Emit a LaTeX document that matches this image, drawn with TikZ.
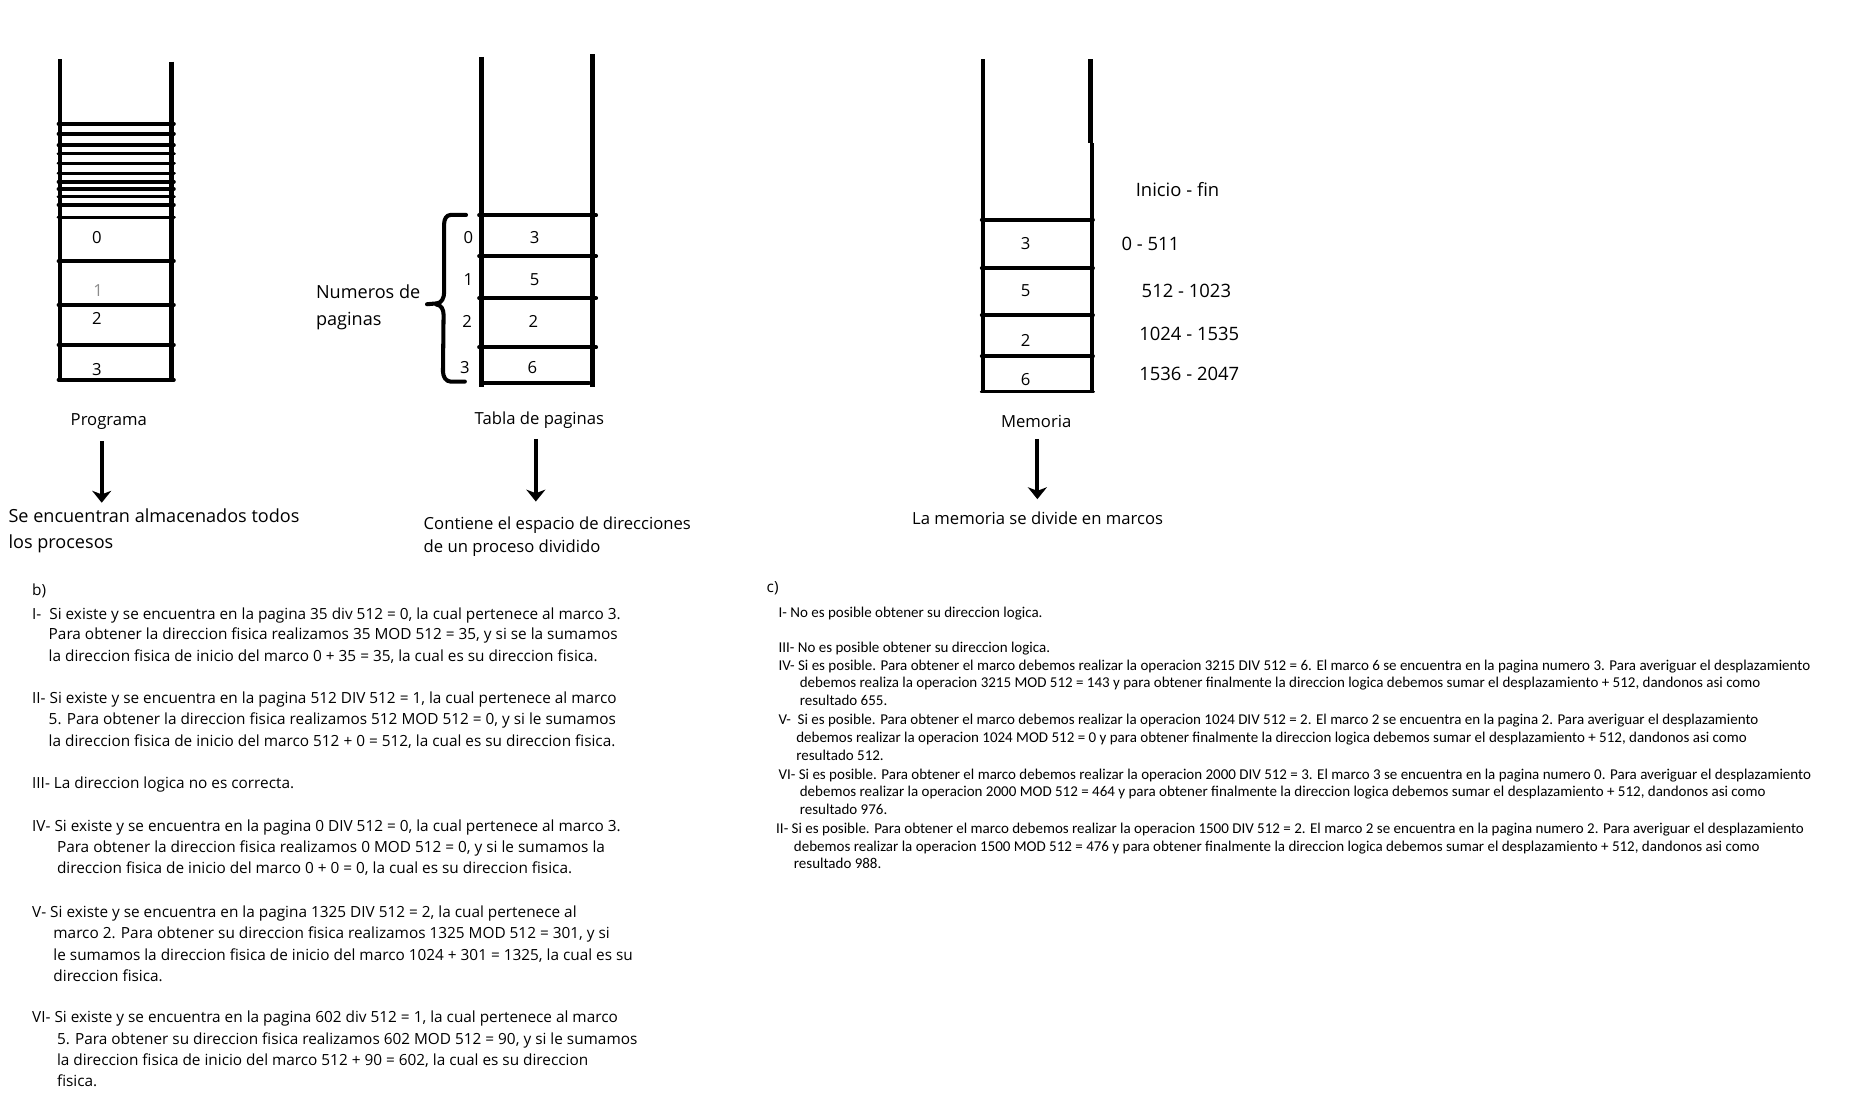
\documentclass[tikz,border=0pt]{standalone}
\usepackage{fontspec}
\setmainfont{Open Sans}
\newfontfamily\calfont{Carlito}
\usetikzlibrary{arrows.meta}
\begin{document}
\begin{tikzpicture}[x=0.994pt,y=-0.994pt,
  thk/.style={line width=3.6pt},
  hl/.style={line width=3.2pt,line cap=round},
  lbl/.style={inner sep=0pt,font=\fontsize{14}{16}\selectfont},
  num/.style={inner sep=0pt,font=\fontsize{14}{16}\selectfont},
  rng/.style={anchor=west,inner sep=0pt,font=\fontsize{15.5}{17}\selectfont},
  dsc/.style={anchor=base west,inner sep=0pt,yshift=-4.5pt,font=\fontsize{15.2}{17}\selectfont},
  dsm/.style={anchor=base west,inner sep=0pt,yshift=-4.3pt,font=\fontsize{14}{16}\selectfont},
  bl/.style={anchor=base west,inner sep=0pt,yshift=-3.8pt,font=\fontsize{12.9}{15}\selectfont},
  cl/.style={anchor=base west,inner sep=0pt,yshift=-3.6pt,font=\calfont\fontsize{12.6}{14}\selectfont},
  arr/.style={line width=3.4pt,-{Stealth[width=16pt,length=10pt,inset=3pt]}},
  brc/.style={line width=3.4pt,line cap=round,line join=round}]
\useasboundingbox (0,0) rectangle (1565.7,943.5);
% ---------------- Programa ----------------
\draw[thk] (51,50) -- (51,322);
\draw[thk] (145,52) -- (145,322);
\foreach \y in {104.6,113,122.8,129.8,138.2,146.6,153.6,159.8,166.2,173.2,183.8,220.8,257.8,291.6,321}
  \draw[hl] (49.5,\y) -- (147,\y);
\node[num] (p0) at (82,201) {0};
\node[num,text=black!45] (p1) at (83,246) {1};
\node[num] (p2) at (82,269) {2};
\node[num] (p3) at (82,312) {3};
\node[lbl] (prog) at (92,356) {Programa};
\coordinate (progA) at (86,373);
\coordinate (progB) at (86,425);
\draw[arr] (progA) -- (progB);
\node[dsc] (progt1) at (7,437) {Se encuentran almacenados todos};
\node[dsc] (progt2) at (7,459) {los procesos};
% ---------------- Tabla de paginas ----------------
\draw[thk] (407,48) -- (407,327);
\draw[thk] (501,46) -- (501,327);
\foreach \y in {182,216.6,252,293.6}
  \draw[hl] (405,\y) -- (504,\y);
\draw[hl] (407,324) -- (498,324);
\node[num] (t0) at (452,201) {3};
\node[num] (t1) at (452,236) {5};
\node[num] (t2) at (451,272) {2};
\node[num] (t3) at (450,311) {6};
\node[num] (i0) at (396,201) {0};
\node[num] (i1) at (396,236) {1};
\node[num] (i2) at (395,272) {2};
\node[num] (i3) at (393,311) {3};
% brace
\coordinate (brT) at (394,181.7);
\coordinate (brB) at (393,322.6);
\coordinate (brTip) at (361,257.2);
\draw[brc] (brT) -- (381,181.7) to[out=180,in=90] (375.5,189) -- (375.5,247)
  to[out=-90,in=0] (369,256.5) -- (brTip);
\draw[brc] (369,257.5) to[out=0,in=90] (375,266) -- (374.5,314)
  to[out=-90,in=180] (381,322.6) -- (brB);
\node[dsc] (np1) at (267,248) {Numeros de};
\node[dsc] (np2) at (267,271) {paginas};
\node[lbl] (tabla) at (456,355) {Tabla de paginas};
\coordinate (tabA) at (453,371);
\coordinate (tabB) at (453,424);
\draw[arr] (tabA) -- (tabB);
\node[dsm] (tabt1) at (358,443) {Contiene el espacio de direcciones};
\node[dsm] (tabt2) at (358,463) {de un proceso dividido};
% ---------------- Memoria ----------------
\draw[thk] (831,50) -- (831,331);
\draw[thk] (922,50) -- (922,121);
\draw[thk] (923,121) -- (923,331);
\foreach \y in {185.7,226.8,266.6,301.2,331}
  \draw[hl] (830,\y) -- (924,\y);
\node[num] (m0) at (867,206) {3};
\node[num] (m1) at (867,246) {5};
\node[num] (m2) at (867,288) {2};
\node[num] (m3) at (867,321) {6};
\node[rng] (ini) at (960,160) {Inicio - fin};
\node[rng] (r0) at (948,206) {0 - 511};
\node[rng] (r1) at (965,246) {512 - 1023};
\node[rng] (r2) at (963,282) {1024 - 1535};
\node[rng] (r3) at (963,316) {1536 - 2047};
\node[lbl] (mem) at (876,356) {Memoria};
\coordinate (memA) at (877,371);
\coordinate (memB) at (877,422);
\draw[arr] (memA) -- (memB);
\node[dsm] (memt) at (771,439) {La memoria se divide en marcos};
% ---------------- b) ----------------
\node[bl] (b0) at (27,500) {b)};
\node[bl] (b1a) at (27,520) {I-\ \ Si existe y se encuentra en la pagina 35 div 512 = 0, la cual pertenece al marco 3.};
\node[bl] (b1b) at (41,537) {Para obtener la direccion fisica realizamos 35 MOD 512 = 35, y si se la sumamos};
\node[bl] (b1c) at (41,555) {la direccion fisica de inicio del marco 0 + 35 = 35, la cual es su direccion fisica.};
\node[bl] (b2a) at (27,591) {II- Si existe y se encuentra en la pagina 512 DIV 512 = 1, la cual pertenece al marco};
\node[bl] (b2b) at (41,609) {5. Para obtener la direccion fisica realizamos 512 MOD 512 = 0, y si le sumamos};
\node[bl] (b2c) at (41,627) {la direccion fisica de inicio del marco 512 + 0 = 512, la cual es su direccion fisica.};
\node[bl] (b3a) at (27,663) {III- La direccion logica no es correcta.};
\node[bl] (b4a) at (27,699) {IV- Si existe y se encuentra en la pagina 0 DIV 512 = 0, la cual pertenece al marco 3.};
\node[bl] (b4b) at (48,717) {Para obtener la direccion fisica realizamos 0 MOD 512 = 0, y si le sumamos la};
\node[bl] (b4c) at (48,735) {direccion fisica de inicio del marco 0 + 0 = 0, la cual es su direccion fisica.};
\node[bl] (b5a) at (27,772) {V- Si existe y se encuentra en la pagina 1325 DIV 512 = 2, la cual pertenece al};
\node[bl] (b5b) at (45,790) {marco 2. Para obtener su direccion fisica realizamos 1325 MOD 512 = 301, y si};
\node[bl] (b5c) at (45,808) {le sumamos la direccion fisica de inicio del marco 1024 + 301 = 1325, la cual es su};
\node[bl] (b5d) at (45,826) {direccion fisica.};
\node[bl] (b6a) at (27,861) {VI- Si existe y se encuentra en la pagina 602 div 512 = 1, la cual pertenece al marco};
\node[bl] (b6b) at (48,879) {5. Para obtener su direccion fisica realizamos 602 MOD 512 = 90, y si le sumamos};
\node[bl] (b6c) at (48,897) {la direccion fisica de inicio del marco 512 + 90 = 602, la cual es su direccion};
\node[bl] (b6d) at (48,915) {fisica.};
% ---------------- c) ----------------
\node[bl] (c0) at (648,497) {c)};
\node[cl] (c1a) at (658,518) {I- No es posible obtener su direccion logica.};
\node[cl] (c3a) at (658,548) {III- No es posible obtener su direccion logica.};
\node[cl] (c4a) at (658,563) {IV- Si es posible. Para obtener el marco debemos realizar la operacion 3215 DIV 512 = 6. El marco 6 se encuentra en la pagina numero 3. Para averiguar el desplazamiento};
\node[cl] (c4b) at (676,578) {debemos realiza la operacion 3215 MOD 512 = 143 y para obtener finalmente la direccion logica debemos sumar el desplazamiento + 512, dandonos asi como};
\node[cl] (c4c) at (676,593) {resultado 655.};
\node[cl] (c5a) at (658,609) {V-\ \ Si es posible. Para obtener el marco debemos realizar la operacion 1024 DIV 512 = 2. El marco 2 se encuentra en la pagina 2. Para averiguar el desplazamiento};
\node[cl] (c5b) at (673,624) {debemos realizar la operacion 1024 MOD 512 = 0 y para obtener finalmente la direccion logica debemos sumar el desplazamiento + 512, dandonos asi como};
\node[cl] (c5c) at (673,639) {resultado 512.};
\node[cl] (c6a) at (658,655) {VI- Si es posible. Para obtener el marco debemos realizar la operacion 2000 DIV 512 = 3. El marco 3 se encuentra en la pagina numero 0. Para averiguar el desplazamiento};
\node[cl] (c6b) at (676,670) {debemos realizar la operacion 2000 MOD 512 = 464 y para obtener finalmente la direccion logica debemos sumar el desplazamiento + 512, dandonos asi como};
\node[cl] (c6c) at (676,685) {resultado 976.};
\node[cl] (c2a) at (656,701) {II- Si es posible. Para obtener el marco debemos realizar la operacion 1500 DIV 512 = 2. El marco 2 se encuentra en la pagina numero 2. Para averiguar el desplazamiento};
\node[cl] (c2b) at (671,716) {debemos realizar la operacion 1500 MOD 512 = 476 y para obtener finalmente la direccion logica debemos sumar el desplazamiento + 512, dandonos asi como};
\node[cl] (c2c) at (671,731) {resultado 988.};
\end{tikzpicture}
\end{document}
